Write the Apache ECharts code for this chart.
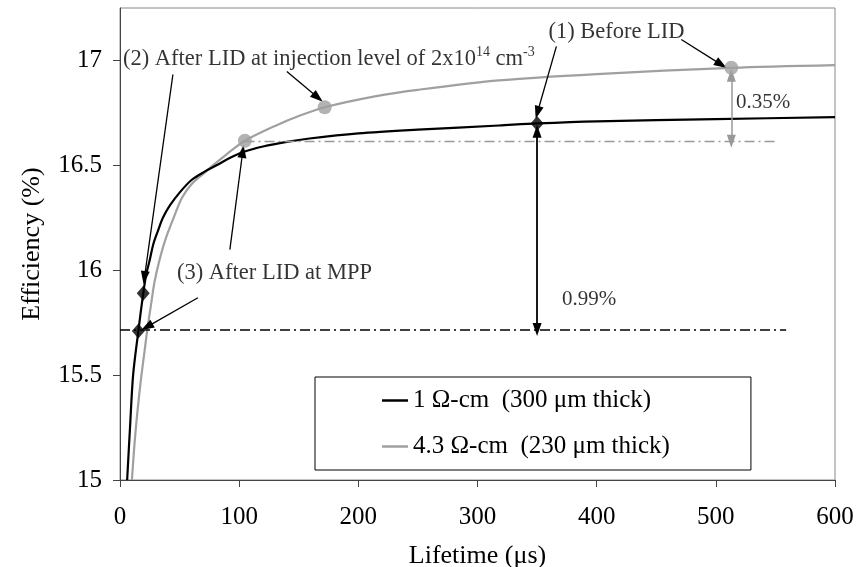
<!DOCTYPE html>
<html>
<head>
<meta charset="utf-8">
<script src="https://cdn.jsdelivr.net/npm/echarts@6/dist/echarts.min.js"></script>
<style>
  html, body { margin: 0; padding: 0; background: #fff; }
  #main { width: 857px; height: 567px; }
</style>
</head>
<body>
<div id="main"></div>
<script>
// lifetime (us) / efficiency (%)
var thinLifetime = [6, 8.4, 11, 15.4, 19.5, 22, 25, 28, 32, 36, 42, 50, 60, 71, 81, 92, 104, 120, 140, 159, 200, 250, 318, 350, 400, 500, 600];
var thinEff = [15.0, 15.25, 15.5, 15.71, 15.89, 15.98, 16.05, 16.125, 16.19, 16.25, 16.31, 16.37, 16.43, 16.47, 16.5, 16.535, 16.565, 16.59, 16.612, 16.628, 16.652, 16.67, 16.69, 16.70, 16.71, 16.72, 16.73];

var thickLifetime = [10, 12, 14, 16, 18, 20.5, 23, 26, 29, 33, 38, 45, 52, 60, 71, 78, 90, 104.8, 131, 150, 171.8, 215, 250, 318, 400, 513, 600];
var thickEff = [15.0, 15.16, 15.29, 15.4, 15.5, 15.61, 15.72, 15.835, 15.945, 16.045, 16.145, 16.25, 16.345, 16.41, 16.465, 16.5, 16.555, 16.617, 16.69, 16.735, 16.777, 16.83, 16.86, 16.905, 16.935, 16.965, 16.978];

var seriesNames = ['1 Ω-cm  (300 μm thick)', '4.3 Ω-cm  (230 μm thick)'];

// marked operating points
var thinPoints = [[15.4, 15.71], [19.5, 15.89], [350, 16.70]];
var thickPoints = [[104.8, 16.617], [171.8, 16.777], [513, 16.965]];

// annotation arrows [x1, y1, x2, y2] in data units (tail -> head)
var noteArrows = [
  [44.4, 16.933, 20.5, 15.965],
  [140, 16.947, 166, 16.823],
  [366.2, 17.067, 350.3, 16.752],
  [471, 17.1, 504.5, 16.98],
  [92.2, 16.098, 103, 16.566],
  [65.4, 15.869, 22.6, 15.73]
];
// dash-dot reference levels [xStart, xEnd, y]
var blackLevel = [0, 559, 15.718];
var grayLevel = [104.5, 551, 16.615];
// difference arrows [x, yLow, yHigh]
var blackGap = [350, 15.718, 16.662];
var grayGap = [513, 16.615, 16.93];

var noteTexts = [
  '(2) After LID at injection level of 2x10{sup|14} cm{sup|-3}',
  '(1) Before LID',
  '(3) After LID at MPP',
  '{pct|0.35%}',
  '{pct|0.99%}'
];
var notePos = [[2.5, 17.005], [359.5, 17.134], [47.8, 15.988], [517, 16.80], [371, 15.86]];

var FONT = 'Liberation Serif';
var chartDom = document.getElementById('main');
var myChart = echarts.init(chartDom);

function zip(xs, ys) {
  return xs.map(function (x, i) { return [x, ys[i]]; });
}

var option = {
  animation: false,
  textStyle: { fontFamily: FONT, color: '#000' },
  grid: {
    left: 120, right: 22, top: 8, bottom: 87,
    outerBoundsMode: 'none',
    show: true, borderColor: '#888', borderWidth: 1
  },
  legend: {
    data: [
      { name: seriesNames[0], icon: 'rect' },
      { name: seriesNames[1], icon: 'rect' }
    ],
    orient: 'vertical',
    left: 315, top: 377,
    padding: [11, 81, 11, 67],
    itemGap: 21, itemWidth: 26, itemHeight: 2.5,
    borderColor: '#000', borderWidth: 1,
    textStyle: { fontFamily: FONT, fontSize: 25, color: '#000' }
  },
  xAxis: {
    type: 'value', min: 0, max: 600, interval: 100,
    name: 'Lifetime (μs)', nameLocation: 'middle', nameGap: 63,
    nameTextStyle: { fontFamily: FONT, fontSize: 26, color: '#000' },
    axisLine: { lineStyle: { color: '#444', width: 1 } },
    axisTick: { length: 7, lineStyle: { color: '#444' } },
    axisLabel: { fontFamily: FONT, fontSize: 25, color: '#000', margin: 25 },
    splitLine: { show: false }
  },
  yAxis: {
    type: 'value', min: 15, max: 17.25, interval: 0.5,
    name: 'Efficiency (%)', nameLocation: 'middle', nameGap: 75,
    nameTextStyle: { fontFamily: FONT, fontSize: 26, color: '#000' },
    axisLine: { show: true, lineStyle: { color: '#444', width: 1 } },
    axisTick: { show: true, length: 7, lineStyle: { color: '#444' },
      customValues: [15, 15.5, 16, 16.5, 17] },
    axisLabel: { fontFamily: FONT, fontSize: 25, color: '#000', margin: 18,
      customValues: [15, 15.5, 16, 16.5, 17] },
    splitLine: { show: false }
  },
  series: [
    {
      name: seriesNames[0], type: 'line', smooth: 0.3, symbol: 'none',
      data: zip(thinLifetime, thinEff),
      lineStyle: { color: '#000', width: 2.2 }, itemStyle: { color: '#000' }, z: 4
    },
    {
      name: seriesNames[1], type: 'line', smooth: 0.3, symbol: 'none',
      data: zip(thickLifetime, thickEff),
      lineStyle: { color: '#a0a0a0', width: 2.2 }, itemStyle: { color: '#a0a0a0' }, z: 3
    },
    {
      name: 'thinPts', type: 'scatter', symbol: 'diamond', symbolSize: [13, 15],
      data: thinPoints, itemStyle: { color: '#000' }, z: 6
    },
    {
      name: 'thickPts', type: 'scatter', symbol: 'circle', symbolSize: 14,
      data: thickPoints, itemStyle: { color: '#a0a0a0' }, z: 6
    },
    {
      name: 'marks', type: 'line', data: [], z: 5,
      markLine: {
        silent: true, animation: false,
        label: { show: false },
        symbol: ['none', 'triangle'], symbolSize: [9, 13],
        lineStyle: { color: '#000', width: 1.3, type: 'solid' },
        data: noteArrows.map(function (a) {
          return [{ coord: [a[0], a[1]] }, { coord: [a[2], a[3]] }];
        }).concat([
          [{ coord: [blackLevel[0], blackLevel[2]], symbol: 'none',
             lineStyle: { color: '#000', width: 1.6, type: [10, 4, 2, 4] } },
           { coord: [blackLevel[1], blackLevel[2]], symbol: 'none' }],
          [{ coord: [grayLevel[0], grayLevel[2]], symbol: 'none',
             lineStyle: { color: '#999', width: 1.3, type: [10, 4, 2, 4] } },
           { coord: [grayLevel[1], grayLevel[2]], symbol: 'none' }],
          [{ coord: [blackGap[0], blackGap[1]], symbol: 'triangle',
             lineStyle: { color: '#000', width: 1.8 } },
           { coord: [blackGap[0], blackGap[2]], symbol: 'triangle' }],
          [{ coord: [grayGap[0], grayGap[1]], symbol: 'triangle',
             lineStyle: { color: '#999', width: 1.5 }, itemStyle: { color: '#999' } },
           { coord: [grayGap[0], grayGap[2]], symbol: 'triangle' }]
        ])
      }
    },
    {
      name: 'notes', type: 'scatter', symbolSize: 0, z: 7,
      data: notePos.map(function (p, i) {
        return { value: p, label: { formatter: noteTexts[i] } };
      }),
      label: {
        show: true, position: 'right', distance: 0,
        fontFamily: FONT, fontSize: 22.5, color: '#000',
        rich: {
          sup: { fontFamily: FONT, fontSize: 14, color: '#000', verticalAlign: 'top', lineHeight: 28 },
          pct: { fontFamily: FONT, fontSize: 21, color: '#000' }
        }
      }
    }
  ]
};

myChart.setOption(option);
</script>
</body>
</html>
